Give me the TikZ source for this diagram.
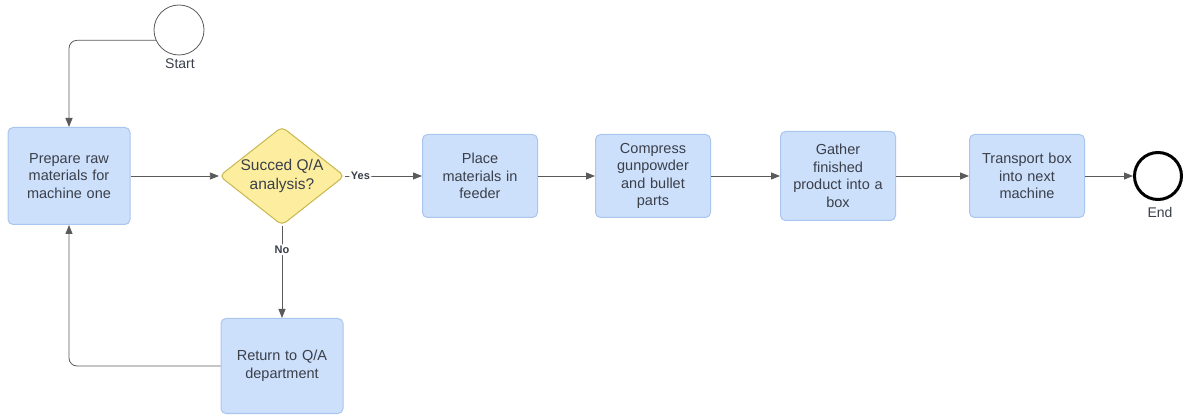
\documentclass[tikz,border=0pt]{standalone}
\usepackage{fontspec}
\setmainfont{Liberation Sans}
\usetikzlibrary{shapes.geometric,arrows.meta}
\definecolor{boxfill}{HTML}{CDE0FB}
\definecolor{boxline}{HTML}{A9C6EE}
\definecolor{decfill}{HTML}{FCEE9E}
\definecolor{decline}{HTML}{C9B64E}
\definecolor{txt}{HTML}{3A3F4A}
\definecolor{wire}{HTML}{5A5A5A}
\begin{document}
\begin{tikzpicture}[x=1pt,y=-1pt,
  taskbox/.style={draw=boxline,fill=boxfill,line width=1pt,rounded corners=5pt,
    minimum width=#1,align=center,text=txt,font=\fontsize{14.5}{17.5}\selectfont,
    inner sep=0pt,text width=110pt},
  decision/.style={diamond,draw=decline,fill=decfill,line width=1pt,rounded corners=5pt,
    minimum width=118pt,minimum height=93pt,aspect=1.27,inner sep=0pt,align=center,
    text=txt,font=\fontsize{15.5}{19}\selectfont},
  event/.style={circle,draw=wire,fill=white,minimum size=50pt,inner sep=0pt},
  flow/.style={draw=wire,line width=0.8pt,-{Triangle[length=9pt,width=7pt]},rounded corners=8pt},
  tag/.style={font=\fontsize{11}{12}\bfseries\selectfont,text=txt,fill=white,inner sep=1.5pt},
  caption/.style={font=\fontsize{14}{16}\selectfont,text=txt}]
\useasboundingbox (0,0) rectangle (1186,419);

% start and end events
\node[event,line width=0.8pt] (start) at (179,30) {};
\node[caption] (startlbl) at (180,64) {Start};
\node[event,draw=black,line width=3pt,minimum size=47pt] (stop) at (1158,176) {};
\node[caption] (stoplbl) at (1160,212) {End};

% tasks
\node[taskbox=122pt,minimum height=97pt] (prep) at (69,176) {Prepare raw\\materials for\\machine one};
\node[decision] (qa) at (282,176) {Succed Q/A\\analysis?};
\node[taskbox=115pt,minimum height=83pt] (place) at (480,176) {Place\\materials in\\feeder};
\node[taskbox=115pt,minimum height=83pt] (press) at (653,176) {Compress\\gunpowder\\and bullet\\parts};
\node[taskbox=115pt,minimum height=89pt] (gather) at (838,176) {Gather\\finished\\product into a\\box};
\node[taskbox=115pt,minimum height=83pt] (ship) at (1027,176) {Transport box\\into next\\machine};
\node[taskbox=122pt,minimum height=95pt] (ret) at (282,366) {Return to Q/A\\department};

% connectors
\draw[flow] (start.204) -- (prep.north |- start.204) -- (prep.north);
\draw[flow] (prep.east) -- (qa.west);
\draw[flow] (qa.east) -- node[tag,pos=0.2] (yes) {Yes} (place.west);
\draw[flow] (qa.south) -- node[tag,pos=0.26] (no) {No} (ret.north);
\draw[flow] (ret.west) -- (prep.south |- ret.west) -- (prep.south);
\draw[flow] (place.east) -- (press.west);
\draw[flow] (press.east) -- (gather.west);
\draw[flow] (gather.east) -- (ship.west);
\draw[flow] (ship.east) -- (stop.west);
\end{tikzpicture}
\end{document}
